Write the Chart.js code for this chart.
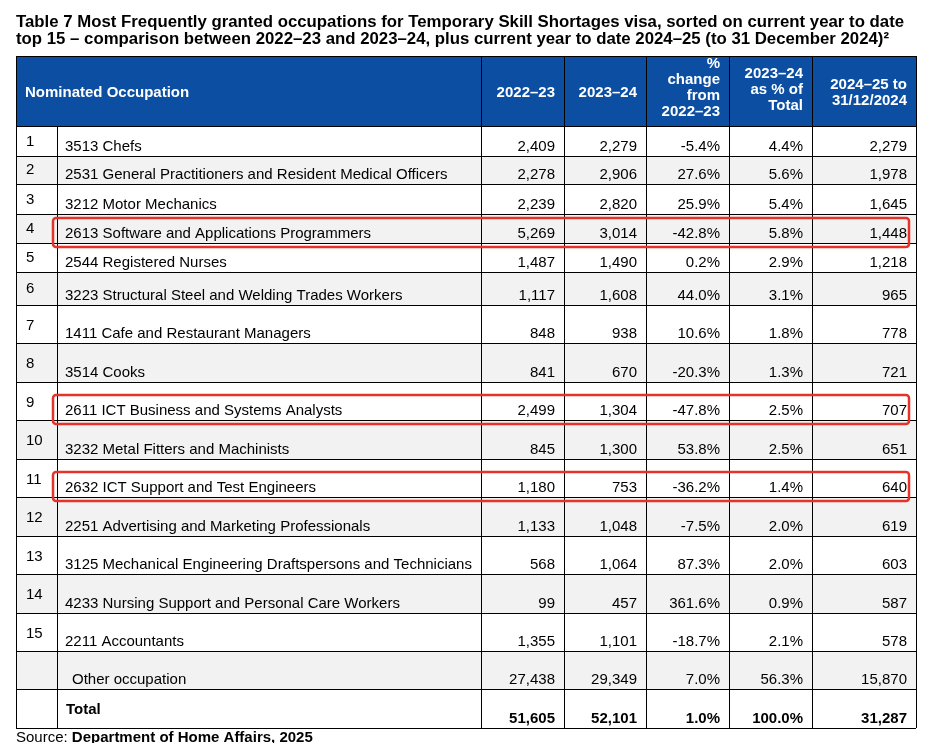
<!DOCTYPE html>
<html>
<head>
<meta charset="utf-8">
<title>Table 7 Most Frequently granted occupations</title>
<script src="https://cdn.jsdelivr.net/npm/chart.js@4.4.1/dist/chart.umd.min.js"></script>
<style>
  body { margin: 0; background: #fff; }
</style>
</head>
<body>
<canvas id="tableChart" width="929" height="743"></canvas>
<script>
const titleLines = [
  'Table 7 Most Frequently granted occupations for Temporary Skill Shortages visa, sorted on current year to date',
  'top 15 \u2013 comparison between 2022\u201323 and 2023\u201324, plus current year to date 2024\u201325 (to 31 December 2024)\u00b2',
];
const columnTitles = [
  ['Nominated Occupation'],
  ['2022\u201323'],
  ['2023\u201324'],
  ['%', 'change', 'from', '2022\u201323'],
  ['2023\u201324', 'as % of', 'Total'],
  ['2024\u201325 to', '31/12/2024'],
];
const ranks = [1, 2, 3, 4, 5, 6, 7, 8, 9, 10, 11, 12, 13, 14, 15, null, null];
const occupations = [
  '3513 Chefs',
  '2531 General Practitioners and Resident Medical Officers',
  '3212 Motor Mechanics',
  '2613 Software and Applications Programmers',
  '2544 Registered Nurses',
  '3223 Structural Steel and Welding Trades Workers',
  '1411 Cafe and Restaurant Managers',
  '3514 Cooks',
  '2611 ICT Business and Systems Analysts',
  '3232 Metal Fitters and Machinists',
  '2632 ICT Support and Test Engineers',
  '2251 Advertising and Marketing Professionals',
  '3125 Mechanical Engineering Draftspersons and Technicians',
  '4233 Nursing Support and Personal Care Workers',
  '2211 Accountants',
  'Other occupation',
  'Total',
];
const grants2022 = [2409, 2278, 2239, 5269, 1487, 1117, 848, 841, 2499, 845, 1180, 1133, 568, 99, 1355, 27438, 51605];
const grants2023 = [2279, 2906, 2820, 3014, 1490, 1608, 938, 670, 1304, 1300, 753, 1048, 1064, 457, 1101, 29349, 52101];
const changePct = [-5.4, 27.6, 25.9, -42.8, 0.2, 44.0, 10.6, -20.3, -47.8, 53.8, -36.2, -7.5, 87.3, 361.6, -18.7, 7.0, 1.0];
const sharePct = [4.4, 5.6, 5.4, 5.8, 2.9, 3.1, 1.8, 1.3, 2.5, 2.5, 1.4, 2.0, 2.0, 0.9, 2.1, 56.3, 100.0];
const grants2024ytd = [2279, 1978, 1645, 1448, 1218, 965, 778, 721, 707, 651, 640, 619, 603, 587, 578, 15870, 31287];
const highlightRanks = [4, 9, 11];
const sourceLabel = 'Source: ';
const sourceText = 'Department of Home Affairs, 2025';

/** layout (px units of the two axes) */
const colWidths = [41, 424, 83, 82, 83, 83, 104];
const headerHeight = 70;
const rowHeights = [30, 28, 30, 29, 29, 33, 38, 39, 38, 39, 38, 39, 38, 39, 38, 38, 39];

const cumulative = (arr) => arr.reduce((acc, w) => { acc.push(acc[acc.length - 1] + w); return acc; }, [0]);
const colEdges = cumulative(colWidths);
const rowEdges = cumulative([headerHeight, ...rowHeights]);

const FONT = "'Liberation Sans', Arial, sans-serif";
const fmtNum = (v) => v.toLocaleString('en-US');
const fmtPct = (v) => v.toFixed(1) + '%';

const tablePlugin = {
  id: 'tablePlugin',
  beforeDraw(chart) {
    const { ctx, scales: { x, y } } = chart;
    ctx.save();
    ctx.fillStyle = '#fff';
    ctx.fillRect(0, 0, chart.width, chart.height);
    // zebra rows
    ctx.fillStyle = '#f2f2f2';
    occupations.forEach((_, i) => {
      if (i % 2 === 1) {
        const top = y.getPixelForValue(rowEdges[i + 1]);
        const bottom = y.getPixelForValue(rowEdges[i + 2]);
        ctx.fillRect(x.left, top, x.right - x.left, bottom - top);
      }
    });
    // header band
    ctx.fillStyle = '#0b4ea2';
    ctx.fillRect(x.left, y.getPixelForValue(0), x.right - x.left, y.getPixelForValue(rowEdges[1]) - y.getPixelForValue(0));
    ctx.restore();
  },
  afterDraw(chart) {
    const { ctx, scales: { x, y } } = chart;
    ctx.save();

    // rank | occupation divider (body only, header is merged)
    const divX = Math.round(x.getPixelForValue(colEdges[1])) + 0.5;
    ctx.strokeStyle = '#000';
    ctx.lineWidth = 1;
    ctx.beginPath();
    ctx.moveTo(divX, y.getPixelForValue(rowEdges[1]));
    ctx.lineTo(divX, y.getPixelForValue(rowEdges[rowEdges.length - 1]));
    ctx.stroke();

    // header text
    const hTop = y.getPixelForValue(0);
    const hMid = (hTop + y.getPixelForValue(rowEdges[1])) / 2;
    ctx.fillStyle = '#fff';
    ctx.font = 'bold 15px ' + FONT;
    ctx.textBaseline = 'alphabetic';
    columnTitles.forEach((lines, c) => {
      const n = lines.length;
      const mid = hMid + 6 - Math.max(0, n - 2) * 2.75;
      lines.forEach((line, i) => {
        const by = mid + (i - (n - 1) / 2) * 16;
        if (c === 0) {
          ctx.textAlign = 'left';
          ctx.fillText(line, x.getPixelForValue(colEdges[0]) + 9, by);
        } else {
          ctx.textAlign = 'right';
          ctx.fillText(line, x.getPixelForValue(colEdges[c + 2]) - 9, by);
        }
      });
    });

    // body text
    ctx.fillStyle = '#000';
    occupations.forEach((occ, i) => {
      const top = y.getPixelForValue(rowEdges[i + 1]);
      const bottom = y.getPixelForValue(rowEdges[i + 2]);
      const upperBase = top + (bottom - top) * 0.65;
      const base = bottom - 5;
      const isTotal = occ === 'Total';
      ctx.font = (isTotal ? 'bold ' : '') + '15px ' + FONT;

      ctx.textAlign = 'left';
      if (ranks[i] !== null) {
        ctx.fillText(String(ranks[i]), x.getPixelForValue(colEdges[0]) + 10, upperBase);
      }
      if (isTotal) {
        ctx.fillText(occ, x.getPixelForValue(colEdges[1]) + 9, upperBase);
      } else {
        const indent = ranks[i] === null ? 15 : 8;
        ctx.fillText(occ, x.getPixelForValue(colEdges[1]) + indent, base);
      }

      ctx.textAlign = 'right';
      const cells = [fmtNum(grants2022[i]), fmtNum(grants2023[i]), fmtPct(changePct[i]), fmtPct(sharePct[i]), fmtNum(grants2024ytd[i])];
      cells.forEach((txt, c) => {
        ctx.fillText(txt, x.getPixelForValue(colEdges[c + 3]) - 9, base);
      });
    });

    // red highlight boxes
    ctx.strokeStyle = '#e5332a';
    ctx.lineWidth = 2.5;
    highlightRanks.forEach((r) => {
      const i = ranks.indexOf(r);
      const bottom = y.getPixelForValue(rowEdges[i + 2]);
      const left = x.getPixelForValue(colEdges[0]) + 37;
      const right = x.getPixelForValue(colEdges[colEdges.length - 1]) - 7;
      ctx.beginPath();
      ctx.roundRect(left, bottom - 25, right - left, 29, 3);
      ctx.stroke();
    });

    // source line
    ctx.fillStyle = '#000';
    ctx.textAlign = 'left';
    ctx.font = '15px ' + FONT;
    const sx = x.getPixelForValue(colEdges[0]);
    const sy = y.getPixelForValue(rowEdges[rowEdges.length - 1]) + 14;
    ctx.fillText(sourceLabel, sx, sy);
    const w = ctx.measureText(sourceLabel).width;
    ctx.font = 'bold 15px ' + FONT;
    ctx.fillText(sourceText, sx + w, sy);

    ctx.restore();
  },
};

const tableChart = new Chart(document.getElementById('tableChart'), {
  type: 'scatter',
  data: { datasets: [] },
  options: {
    responsive: false,
    animation: false,
    events: [],
    layout: {
      padding: { left: 16, right: 13, top: 14, bottom: 15 },
    },
    scales: {
      x: {
        type: 'linear',
        min: 0,
        max: colEdges[colEdges.length - 1],
        afterBuildTicks: (axis) => { axis.ticks = colEdges.map((v) => ({ value: v })); },
        ticks: { display: false },
        border: { display: false },
        grid: {
          drawTicks: false,
          lineWidth: 1,
          color: (c) => (c.index === 1 ? 'rgba(0,0,0,0)' : '#000'),
        },
      },
      y: {
        type: 'linear',
        reverse: true,
        min: 0,
        max: rowEdges[rowEdges.length - 1],
        afterBuildTicks: (axis) => { axis.ticks = rowEdges.map((v) => ({ value: v })); },
        ticks: { display: false },
        border: { display: false },
        grid: { drawTicks: false, lineWidth: 1, color: '#000' },
      },
    },
    plugins: {
      legend: { display: false },
      tooltip: { enabled: false },
      title: {
        display: true,
        text: titleLines,
        align: 'start',
        color: '#000',
        font: { family: FONT, size: 16.8, weight: 'bold', lineHeight: 1.0 },
        padding: { top: 0, bottom: 8.4 },
      },
    },
  },
  plugins: [tablePlugin],
});
</script>
</body>
</html>
